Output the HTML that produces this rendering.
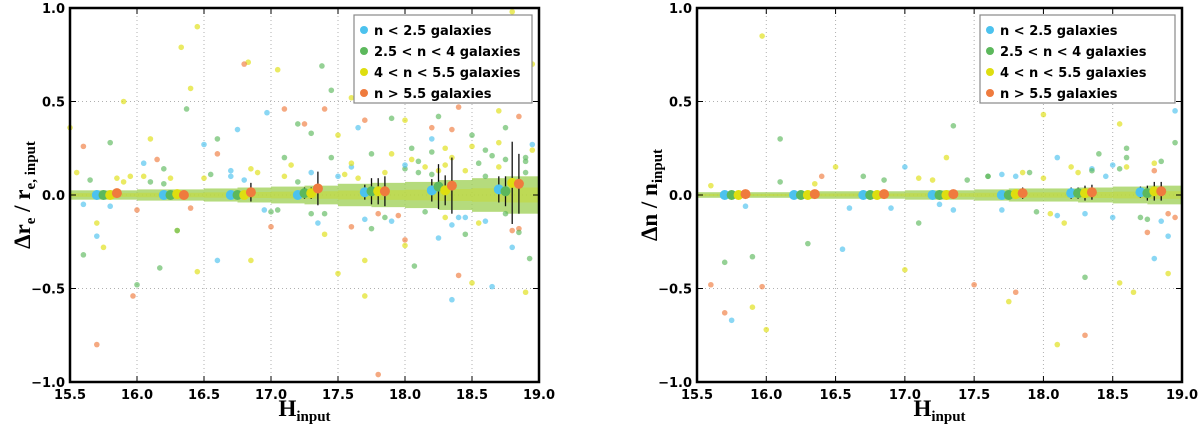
<!DOCTYPE html>
<html><head><meta charset="utf-8"><style>
body{margin:0;background:#fff;}
svg text{font-family:"DejaVu Sans","Liberation Sans",sans-serif;}
</style></head><body>
<svg id="svg" width="1200" height="429" xmlns="http://www.w3.org/2000/svg"></svg>
<script>
const NS="http://www.w3.org/2000/svg";
const xTicks=[15.5,16.0,16.5,17.0,17.5,18.0,18.5,19.0];
const yTicks=[-1.0,-0.5,0.0,0.5,1.0];
const classNames=["n < 2.5 galaxies","2.5 < n < 4 galaxies","4 < n < 5.5 galaxies","n > 5.5 galaxies"];
const colors=["#4cc2ee","#5cb85c","#dede10","#ef7b3e"];
const binH=[15.7,16.2,16.7,17.2,17.7,18.2,18.7];
const leftMeans=[[0,0,0,0.01],[0,0,0.005,0],[0,0,0,0.015],[0,0.01,0.01,0.035],[0.015,0.02,0.02,0.02],[0.025,0.045,0.025,0.05],[0.03,0.02,0.065,0.06]];
const leftErrs=[[0.01,0.01,0.01,0.015],[0.01,0.01,0.01,0.015],[0.01,0.015,0.02,0.05],[0.015,0.03,0.03,0.09],[0.04,0.07,0.07,0.08],[0.06,0.12,0.08,0.15],[0.07,0.08,0.22,0.16]];
const rightMeans=[[0,0,0,0.005],[0,0,0,0.005],[0,0,0,0.005],[0,0,0,0.005],[0,0,0.005,0.01],[0.01,0.01,0.01,0.015],[0.015,0.01,0.02,0.02]];
const rightErrs=[[0.005,0.005,0.01,0.01],[0.005,0.005,0.01,0.01],[0.005,0.01,0.01,0.015],[0.01,0.01,0.015,0.02],[0.02,0.02,0.02,0.03],[0.03,0.03,0.04,0.04],[0.03,0.04,0.05,0.05]];
const bandStart=[15.5,15.75,16.0,16.25,16.5,16.75,17.0,17.25,17.5,17.75,18.0,18.25,18.5,18.75];
const leftBand=[0.025,0.025,0.03,0.03,0.035,0.04,0.045,0.05,0.06,0.065,0.07,0.08,0.09,0.1];
const rightBand=[0.015,0.015,0.015,0.02,0.02,0.02,0.025,0.025,0.03,0.035,0.035,0.04,0.045,0.05];
const leftX=[16.45,16.33,16.83,17.05,15.9,16.4,17.6,18.8,18.95,18.85,16.1,17.5,17.7,17.7,18.9,18.5,15.7,15.75,16.3,16.45,16.85,18.0,17.4,18.0,18.7,17.5,15.5,
17.38,17.45,16.37,15.8,16.0,16.17,15.6,16.3,18.07,18.93,17.9,18.5,17.2,17.3,16.6,18.25,18.75,18.6,17.75,18.45,
16.97,16.75,16.05,16.5,15.7,16.6,18.35,18.65,18.8,17.35,18.25,17.65,18.2,18.95,
16.8,15.7,15.97,17.8,15.6,16.15,16.0,17.0,17.4,17.1,17.25,17.7,18.0,18.35,18.4,18.85,18.8,18.4,18.85,18.2,16.6,17.6,
17.1,17.9,18.1,18.3,18.6,18.7,17.6,17.3,16.9,16.2,18.45,18.9,18.55,17.85,18.15,17.05,16.7,18.05,18.35,18.75,15.85,16.05,
15.55,15.65,15.8,15.95,16.1,16.25,16.4,16.55,16.7,16.85,17.0,17.15,17.3,17.45,17.6,17.75,17.9,18.05,18.2,18.35,18.5,18.65,18.8,18.95,
15.6,15.9,16.2,16.5,16.8,17.1,17.4,17.7,18.0,18.3,18.6,18.9,17.55,17.8,18.1,18.4,18.7,18.85,18.25,18.55,17.95,17.65,17.2,16.95,
18.15,18.45,18.75,18.0,17.85,18.6,18.3,18.9,17.5,18.2];
const leftY=[0.9,0.79,0.71,0.67,0.5,0.57,0.52,0.98,0.7,0.63,0.3,-0.42,-0.35,-0.54,-0.52,-0.47,-0.15,-0.28,-0.19,-0.41,-0.35,-0.27,-0.21,0.4,0.45,0.32,0.36,
0.69,0.56,0.46,0.28,-0.48,-0.39,-0.32,-0.19,-0.38,-0.34,0.41,0.32,0.38,0.33,0.3,0.42,0.36,0.95,-0.18,-0.21,
0.44,0.35,0.17,0.27,-0.22,-0.35,-0.56,-0.49,-0.28,-0.15,-0.23,0.36,0.3,0.27,
0.7,-0.8,-0.54,-0.96,0.26,0.19,-0.08,-0.17,0.46,0.46,0.38,0.4,-0.24,0.35,0.47,0.42,0.52,-0.43,-0.18,0.36,0.22,-0.17,
0.2,0.22,0.18,0.25,0.24,0.28,0.15,-0.1,0.12,0.14,-0.12,0.2,-0.15,-0.12,0.15,-0.08,0.13,0.25,0.2,-0.1,0.09,0.1,
0.12,0.08,-0.06,0.1,0.07,0.09,-0.07,0.11,0.1,0.14,-0.09,0.16,0.12,0.2,0.17,0.22,-0.14,0.19,0.23,-0.16,0.26,0.21,-0.19,0.24,
-0.05,0.07,0.06,0.09,0.08,0.1,-0.1,-0.13,0.14,0.16,-0.14,0.18,0.11,-0.1,0.12,-0.12,0.15,-0.2,0.13,0.17,-0.11,0.09,0.07,-0.08,
-0.09,0.13,0.19,0.16,0.12,0.1,-0.12,0.12,0.1,0.11];
const leftC=[2,2,2,2,2,2,2,2,2,2,2,2,2,2,2,2,2,2,2,2,2,2,2,2,2,2,2,
1,1,1,1,1,1,1,1,1,1,1,1,1,1,1,1,1,1,1,1,
0,0,0,0,0,0,0,0,0,0,0,0,0,0,
3,3,3,3,3,3,3,3,3,3,3,3,3,3,3,3,3,3,3,3,3,3,
1,2,1,2,1,2,0,1,2,1,0,1,2,1,2,1,0,1,2,1,2,2,
2,1,0,2,1,2,3,1,0,2,1,2,0,1,2,1,0,2,1,0,2,1,3,2,
0,2,1,2,0,2,1,0,1,2,0,1,2,3,1,0,2,1,2,1,3,2,1,0,
1,2,1,0,2,1,2,1,0,1];
const rightX=[15.97,18.65,18.0,18.55,16.0,18.1,17.75,18.55,18.65,17.0,18.9,15.9,16.5,17.3,
15.9,15.7,18.3,17.35,18.95,16.3,16.1,16.7,17.1,18.6,18.4,
15.75,16.55,17.25,18.85,18.9,18.8,18.95,17.0,18.1,18.5,17.7,
15.6,15.7,15.97,17.5,17.8,18.3,18.8,16.4,18.75,18.9,
17.9,18.2,18.45,18.7,18.05,17.6,18.35,18.85,17.2,16.9,18.6,18.15,
15.6,15.85,16.1,16.35,16.6,16.85,17.1,17.35,17.6,17.85,18.1,18.35,18.6,18.85,
17.7,17.95,18.25,18.5,18.75,18.0,18.3,18.55,18.8,18.95,17.45,17.8];
const rightY=[0.85,0.62,0.43,0.38,-0.72,-0.8,-0.57,-0.47,-0.52,-0.4,-0.42,-0.6,0.15,0.2,
-0.33,-0.36,-0.44,0.37,0.28,-0.26,0.3,0.1,-0.15,0.2,0.22,
-0.67,-0.29,-0.05,0.53,-0.22,-0.34,0.45,0.15,0.2,-0.12,-0.08,
-0.48,-0.63,-0.49,-0.48,-0.52,-0.75,0.13,0.1,-0.2,-0.1,
0.12,0.15,0.1,-0.12,-0.1,0.1,0.14,0.18,0.08,-0.07,0.25,-0.15,
0.05,-0.06,0.07,0.06,-0.07,0.08,0.09,-0.08,0.1,0.12,-0.11,0.13,0.15,-0.14,
0.11,-0.09,0.12,0.16,-0.13,0.09,-0.1,0.14,0.17,-0.12,0.08,0.1];
const rightC=[2,2,2,2,2,2,2,2,2,2,2,2,2,2,
1,1,1,1,1,1,1,1,1,1,1,
0,0,0,0,0,0,0,0,0,0,0,
3,3,3,3,3,3,3,3,3,3,
1,2,0,1,2,1,0,1,2,0,1,2,
2,0,1,2,0,1,2,0,1,2,0,1,2,0,
0,1,2,0,1,2,0,1,2,3,1,0];

const svg=document.getElementById('svg');
function el(tag,attrs,parent){const e=document.createElementNS(NS,tag);for(const k in attrs)e.setAttribute(k,attrs[k]);(parent||svg).appendChild(e);return e;}

function panel(px,pw,name,meansA,errsA,band,xs,ys,cs,legX){
  const py=8,ph=374;
  const g=el('g',{});
  
  
  const sx=v=>px+(v-15.5)/3.5*pw;
  const sy=v=>py+(1-v)/2*ph;
  xTicks.forEach(t=>{const l=el('line',{x1:sx(t),x2:sx(t),y1:py,y2:py+ph,stroke:'#b0b0b0','stroke-dasharray':'1,3','stroke-width':1},g);
    });
  yTicks.forEach(t=>{const l=el('line',{x1:px,x2:px+pw,y1:sy(t),y2:sy(t),stroke:'#b0b0b0','stroke-dasharray':'1,3','stroke-width':1},g);
    });
  bandStart.forEach((b,i)=>{
    const w=band[i];
    const r=el('rect',{x:sx(b),y:sy(w),width:sx(b+0.25)-sx(b),height:sy(-w)-sy(w),fill:'#9ccf52',opacity:0.75},g);
    
    const r2=el('rect',{x:sx(b),y:sy(w*0.4),width:sx(b+0.25)-sx(b),height:sy(-w*0.4)-sy(w*0.4),fill:'#c5d83a',opacity:0.6},g);
    
  });
  xs.forEach((x,i)=>{
    const c=el('circle',{cx:sx(x),cy:sy(ys[i]),r:2.8,fill:colors[cs[i]],opacity:0.65},g);
    
  });
  binH.forEach((h,bi)=>{
    for(let k=0;k<4;k++){
      const hx=h+0.05*k,m=meansA[bi][k],e=errsA[bi][k];
      const l=el('line',{x1:sx(hx),x2:sx(hx),y1:sy(m+e),y2:sy(m-e),stroke:'#111','stroke-width':1.3},g);
      
      const c=el('circle',{cx:sx(hx),cy:sy(m),r:5,fill:colors[k]},g);
      
    }
  });
  const f=el('rect',{x:px,y:py,width:pw,height:ph,fill:'none',stroke:'#000','stroke-width':2.5},g);
  
  xTicks.forEach(t=>{
    el('line',{x1:sx(t),x2:sx(t),y1:py+ph,y2:py+ph-6,stroke:'#000'},g);
    el('line',{x1:sx(t),x2:sx(t),y1:py,y2:py+6,stroke:'#000'},g);
    const tx=el('text',{x:sx(t),y:py+ph+17,'text-anchor':'middle','font-size':13,'font-weight':'bold'},g);
    tx.textContent=t.toFixed(1);
    
  });
  yTicks.forEach(t=>{
    el('line',{x1:px,x2:px+6,y1:sy(t),y2:sy(t),stroke:'#000'},g);
    el('line',{x1:px+pw,x2:px+pw-6,y1:sy(t),y2:sy(t),stroke:'#000'},g);
    const tx=el('text',{x:px-5,y:sy(t)+5,'text-anchor':'end','font-size':13,'font-weight':'bold'},g);
    tx.textContent=(t<0?'\u2212':'')+Math.abs(t).toFixed(1);
    
  });
  const xl=el('text',{x:px+pw/2,y:416,'text-anchor':'middle','font-size':23,'font-weight':'bold',style:'font-family:"Liberation Serif",serif'},g);
  xl.innerHTML='H<tspan font-size="15" dy="5">input</tspan>';
  
  const yl=el('text',{x:0,y:0,'text-anchor':'middle','font-size':23,'font-weight':'bold',transform:`translate(${px-40},${py+ph/2}) rotate(-90)`,style:'font-family:"Liberation Serif",serif'},g);
  
  const lg=el('g',{},g);
  
  el('rect',{x:legX,y:15,width:px+pw-7-legX,height:88,fill:'#fff',stroke:'#888','stroke-width':1.2},lg);
  classNames.forEach((n,k)=>{
    const yy=31+k*21;
    const c=el('circle',{cx:legX+10,cy:yy-1,r:4,fill:colors[k]},lg);
    
    const t=el('text',{x:legX+20,y:yy+4,'font-size':13,'font-weight':'bold'},lg);
    t.textContent=n;
    
  });
  return yl;
}
const yl1=panel(70,469,'left-panel',leftMeans,leftErrs,leftBand,leftX,leftY,leftC,354);
const yl2=panel(697,485,'right-panel',rightMeans,rightErrs,rightBand,rightX,rightY,rightC,980);
yl1.innerHTML='Δr<tspan font-size="15" dy="5">e</tspan><tspan dy="-5"> / r</tspan><tspan font-size="15" dy="5">e, input</tspan>';
yl2.innerHTML='Δn / n<tspan font-size="15" dy="5">input</tspan>';
</script>
</body></html>
